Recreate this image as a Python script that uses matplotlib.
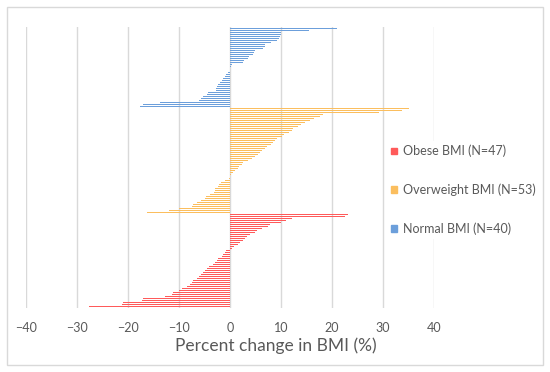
import numpy as np
import matplotlib
matplotlib.use("Agg")
import matplotlib.pyplot as plt
from matplotlib.patches import Rectangle, Patch

plt.rcParams['font.family'] = ['Lato', 'DejaVu Sans']

# percent change in BMI, sorted ascending (bottom to top within group)
obese = [-27.6, -21.2, -20.9, -17.2, -17.0, -12.7, -11.4, -11.1, -10.0, -9.5,
         -8.5, -7.8, -7.5, -7.2, -6.5, -6.0, -5.6, -5.2, -4.9, -4.5,
         -4.2, -3.3, -2.9, -2.6, -2.3, -1.6, -1.3, -1.0, -0.7,
         0.3, 0.8, 1.6, 2.0, 2.5, 2.9, 3.3, 3.9, 4.9, 5.2,
         6.2, 7.5, 7.8, 10.0, 11.0, 12.1, 22.6, 23.2]
overweight = [-16.2, -12.0, -10.0, -7.5, -7.3, -6.5, -5.6, -5.0, -4.8, -4.0,
              -3.2, -3.0, -3.0, -2.4, -2.2, -1.8, -1.0, -0.2, 0.0,
              0.2, 0.5, 1.0, 1.5, 1.8, 2.3, 2.6, 3.6, 4.4, 4.9,
              5.4, 5.8, 6.3, 6.8, 7.3, 8.0, 8.5, 8.8, 9.2, 10.1,
              10.5, 11.5, 12.1, 12.4, 13.4, 14.0, 14.7, 15.7, 16.5, 17.6,
              18.3, 29.2, 33.8, 35.0]
normal = [-17.6, -17.0, -13.7, -6.0, -5.6, -5.2, -4.6, -4.4, -2.8, -2.7,
          -2.5, -2.3, -2.0, -1.6, -1.4, -1.0, -0.7, -0.3, 0.0, 0.0,
          0.2, 0.3, 2.6, 2.8, 3.6, 3.8, 4.6, 4.7, 4.9, 6.4,
          6.8, 6.9, 8.0, 9.2, 9.7, 9.8, 10.0, 10.0, 15.5, 21.0]

groups = [("Obese BMI (N=47)", obese, "#FF5A5A"),
          ("Overweight BMI (N=53)", overweight, "#FBBE5E"),
          ("Normal BMI (N=40)", normal, "#6C9FDB")]

fig = plt.figure(figsize=(5.5, 3.72), dpi=100)
fig.patches.append(Rectangle((7/550, 7/372), 536/550, 358/372, transform=fig.transFigure,
                             fill=False, edgecolor="#D9D9D9", linewidth=1))
ax = fig.add_axes([26/550, 1 - 308/372, 408/550, 281/372])

start = 0
handles = []
for label, vals, color in groups:
    y = np.arange(start, start + len(vals))
    ax.barh(y, vals, height=0.55, color=color, linewidth=0, zorder=3)
    handles.append(Patch(color=color, label=label))
    start += len(vals)

ax.set_xlim(-40, 40)
ax.set_ylim(-0.6, start - 0.4)
ax.set_xticks(np.arange(-40, 41, 10))
ax.set_yticks([])
ax.grid(axis="x", color="#D9D9D9", linewidth=1, zorder=0)
for s in ax.spines.values():
    s.set_visible(False)
ax.tick_params(axis="x", length=0, labelsize=9, labelcolor="#595959", pad=10)
ax.set_xlabel("Percent change in BMI (%)", fontsize=12.5, color="#595959")
ax.xaxis.set_label_coords((276 - 26)/408, -0.105)

leg = fig.legend(handles=handles, loc="center left", bbox_to_anchor=(381/550, 1 - 190/372),
                 frameon=True, fontsize=9, labelspacing=2.1, handlelength=0.45,
                 handleheight=0.45, handletextpad=0.5, borderpad=0.3)
leg.get_frame().set_facecolor("white")
leg.get_frame().set_edgecolor("none")
leg.get_frame().set_alpha(1)
for t in leg.get_texts():
    t.set_color("#595959")

fig.savefig("out.png", dpi=100)
